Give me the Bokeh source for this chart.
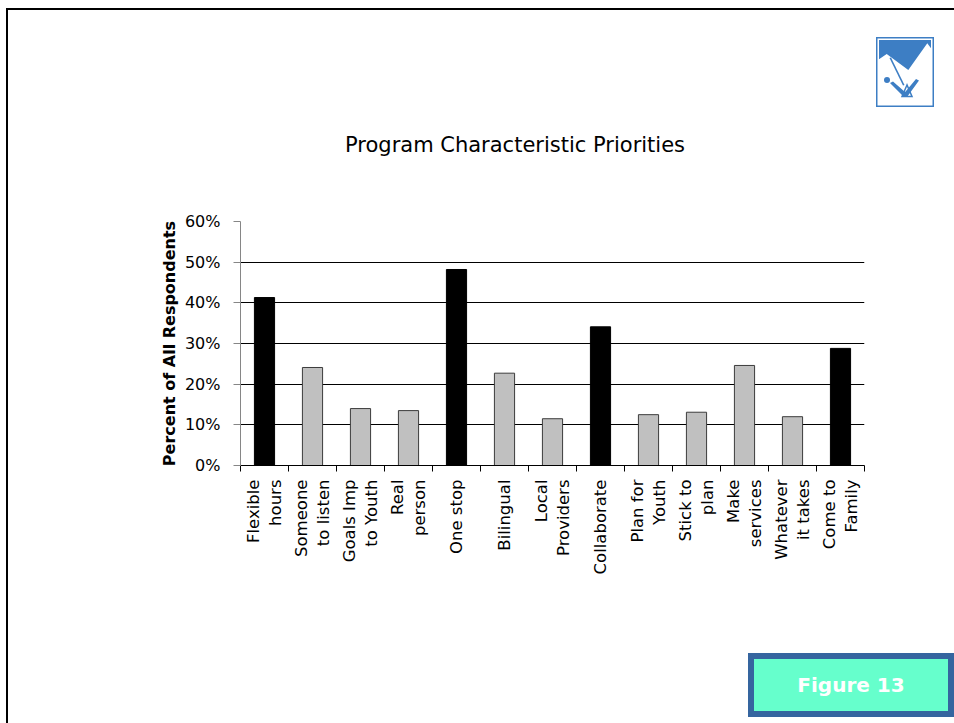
import math
from bokeh.plotting import figure
from bokeh.layouts import column, row
from bokeh.models import (Range1d, LinearAxis, FixedTicker, NumeralTickFormatter,
                          ColumnDataSource, Div)
from bokeh.embed import file_html
from bokeh.resources import INLINE

# ---------------- data ----------------
categories = ["Flexible hours", "Someone to listen", "Goals Imp to Youth", "Real person",
              "One stop", "Bilingual", "Local Providers", "Collaborate", "Plan for Youth",
              "Stick to plan", "Make services", "Whatever it takes", "Come to Family"]
tick_labels = ["Flexible\nhours", "Someone\nto listen", "Goals Imp\nto Youth", "Real\nperson",
               "One stop", "Bilingual", "Local\nProviders", "Collaborate", "Plan for\nYouth",
               "Stick to\nplan", "Make\nservices", "Whatever\nit takes", "Come to\nFamily"]
percent_values = [0.413, 0.241, 0.140, 0.135, 0.482, 0.227, 0.115, 0.341, 0.125, 0.131,
                  0.246, 0.120, 0.288]
highlighted = [True, False, False, False, True, False, False, True, False, False, False,
               False, True]
y_ticks = [0.0, 0.1, 0.2, 0.3, 0.4, 0.5, 0.6]
title_text = "Program Characteristic Priorities"
y_label = "Percent of All Respondents"
figure_tag = "Figure 13"

FONT = "DejaVu Sans"
PAGE_W = 954
HEAD_H, PLOT_H, FOOT_H = 165, 485, 73
LEFT_W = 8
n = len(categories)
centers = [i + 0.5 for i in range(n)]   # category slot centres
edges = list(range(n + 1))               # category slot boundaries

p = figure(width=PAGE_W - LEFT_W, height=PLOT_H,
           x_range=Range1d(0, n), y_range=Range1d(0, 0.6),
           output_backend="svg", toolbar_location=None, x_axis_location=None,
           min_border_left=232, min_border_right=90, min_border_top=56,
           min_border_bottom=185, margin=0)
p.outline_line_color = None
p.background_fill_color = "white"
p.border_fill_color = "white"

# y axis
yt = FixedTicker(ticks=y_ticks, minor_ticks=[])
ya = p.yaxis[0]
ya.ticker = yt
ya.formatter = NumeralTickFormatter(format="0%")
ya.major_label_text_font = FONT
ya.major_label_text_font_size = "16px"
ya.major_label_text_color = "black"
ya.axis_label = y_label
ya.axis_label_text_font = FONT
ya.axis_label_text_font_size = "16px"
ya.axis_label_text_font_style = "bold"
ya.axis_label_text_color = "black"
ya.axis_label_standoff = 3
ya.major_tick_in = 0
ya.major_tick_out = 7
ya.major_label_standoff = 13
ya.axis_line_color = "#868686"
ya.major_tick_line_color = "#868686"
ya.minor_tick_line_color = None

p.ygrid.ticker = yt
p.ygrid.grid_line_color = "black"
p.ygrid.grid_line_width = 1
p.xgrid.visible = False

# x axis: labels at slot centres, tick marks (minor ticks) at slot edges
label_axis = LinearAxis(ticker=FixedTicker(ticks=centers, minor_ticks=edges),
                        major_label_overrides={c: t for c, t in zip(centers, tick_labels)},
                        major_label_orientation=math.pi / 2,
                        axis_line_color="black",
                        major_tick_line_color=None, major_tick_in=0, major_tick_out=6,
                        minor_tick_line_color="black", minor_tick_in=0, minor_tick_out=6,
                        major_label_text_font=FONT,
                        major_label_text_font_size="16.5px",
                        major_label_text_color="black",
                        major_label_text_align="center",
                        major_label_text_line_height=1.2,
                        major_label_standoff=8)
p.add_layout(label_axis, "below")

# bars
source = ColumnDataSource(dict(
    x=centers,
    category=categories,
    value=percent_values,
    fill=["black" if h else "#c0c0c0" for h in highlighted],
    line=["black" if h else "#3c3c3c" for h in highlighted],
))
p.vbar(x="x", top="value", bottom=0, width=0.42, source=source,
       fill_color="fill", line_color="line", line_width=1)

# ---------------- page decorations (HTML around the figure) ----------------
BLUE = "#3d7ec4"
logo_svg = f"""
<svg width="58" height="70" viewBox="0 0 58 70" xmlns="http://www.w3.org/2000/svg">
  <rect x="0.75" y="0.75" width="56.5" height="68.5" fill="white" stroke="{BLUE}" stroke-width="1.5"/>
  <rect x="3" y="3" width="52" height="64" fill="{BLUE}"/>
  <polygon points="3,22.3 10.7,17 32.3,33 51.3,6.3 55,11.3 55,67 3,67" fill="white"/>
  <polygon points="13.5,21 15,20.5 28.5,48 27,48.5" fill="{BLUE}"/>
  <circle cx="11" cy="43" r="3" fill="{BLUE}"/>
  <polygon points="14,46 17,44.5 29,55 30,54 40,42 43,43.5 31,60 27,59" fill="{BLUE}"/>
  <polygon points="31,48 26,59.5 36,59.5" fill="none" stroke="{BLUE}" stroke-width="1.5"/>
</svg>"""

header_html = f"""
<div style="position:relative;width:{PAGE_W}px;height:{HEAD_H}px;overflow:hidden;">
  <div style="position:absolute;left:6px;top:8px;width:{PAGE_W - 6}px;height:2px;background:black;"></div>
  <div style="position:absolute;left:6px;top:8px;width:2px;height:{HEAD_H - 8}px;background:black;"></div>
  <div style="position:absolute;left:876px;top:37px;width:58px;height:70px;line-height:0;">{logo_svg}</div>
  <div style="position:absolute;left:345px;top:133px;height:24px;line-height:24px;white-space:nowrap;
              font-family:'{FONT}';font-size:21px;color:black;">{title_text}</div>
</div>"""

left_html = f"""
<div style="position:relative;width:{LEFT_W}px;height:{PLOT_H}px;overflow:hidden;">
  <div style="position:absolute;left:6px;top:0;width:2px;height:{PLOT_H}px;background:black;"></div>
</div>"""

footer_html = f"""
<div style="position:relative;width:{PAGE_W}px;height:{FOOT_H}px;overflow:hidden;">
  <div style="position:absolute;left:6px;top:0;width:2px;height:{FOOT_H}px;background:black;"></div>
  <div style="position:absolute;left:748px;top:3px;width:206px;height:64px;box-sizing:border-box;
              border:6px solid #35659f;background:#66ffcc;display:flex;align-items:center;
              justify-content:center;color:white;font-family:'{FONT}';font-weight:bold;
              font-size:20px;">{figure_tag}</div>
</div>"""

header = Div(text=header_html, width=PAGE_W, height=HEAD_H, margin=0)
left_bar = Div(text=left_html, width=LEFT_W, height=PLOT_H, margin=0)
footer = Div(text=footer_html, width=PAGE_W, height=FOOT_H, margin=0)

root = column(header, row(left_bar, p, spacing=0, margin=0), footer, spacing=0, margin=0)

open("out.html", "w").write(file_html(root, INLINE))
